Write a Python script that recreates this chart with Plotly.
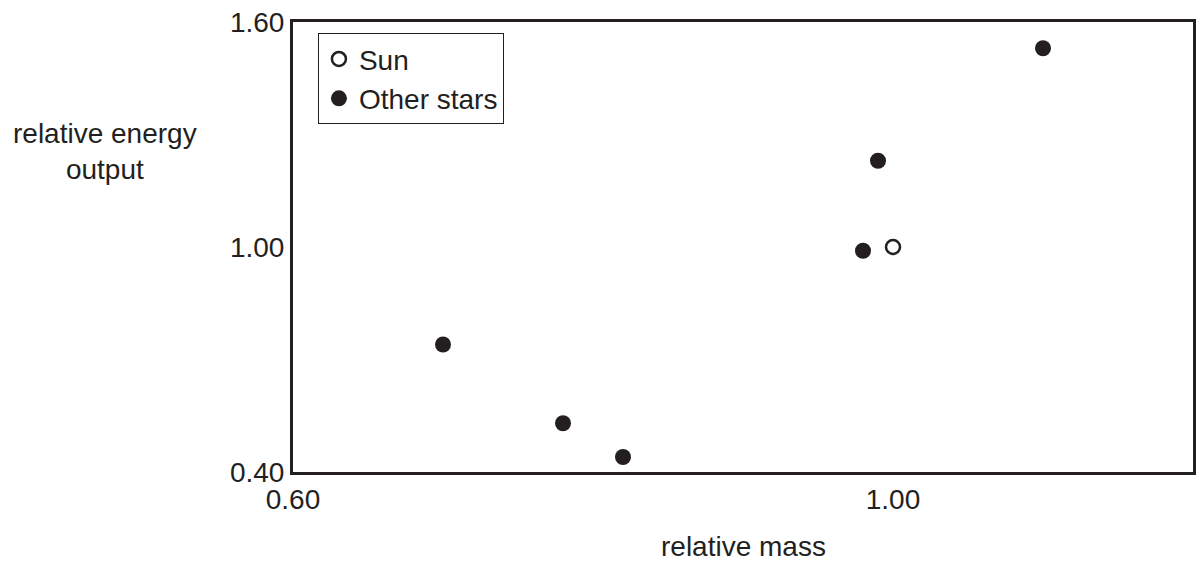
import plotly.graph_objects as go

sun_mass = [1.00]
sun_energy = [1.00]
other_mass = [0.70, 0.78, 0.82, 0.98, 0.99, 1.10]
other_energy = [0.74, 0.53, 0.44, 0.99, 1.23, 1.53]
x_ticks = [0.60, 1.00]
y_ticks = [0.40, 1.00, 1.60]

INK = "#231f20"
FONT = "Liberation Sans, Arial, sans-serif"
FS = 28

fig = go.Figure()
fig.add_trace(go.Scatter(
    x=sun_mass, y=sun_energy, mode="markers", name="Sun",
    marker=dict(symbol="circle-open", size=14, color=INK, line=dict(width=2.5, color=INK)),
))
fig.add_trace(go.Scatter(
    x=other_mass, y=other_energy, mode="markers", name="Other stars",
    marker=dict(symbol="circle", size=16, color=INK),
))

axis_common = dict(
    showgrid=False, zeroline=False, showline=True, mirror=True,
    linecolor=INK, linewidth=3, ticks="", tickfont=dict(size=FS, color=INK, family=FONT),
)
fig.update_xaxes(range=[0.6, 1.2], tickvals=x_ticks, ticktext=[f"{v:.2f}" for v in x_ticks], **axis_common)
fig.update_yaxes(range=[0.4, 1.6], tickvals=y_ticks, ticktext=[f"{v:.2f}" for v in y_ticks], **axis_common)

fig.add_annotation(text="relative energy<br>output", xref="paper", yref="paper",
                   x=-0.209, y=0.712, showarrow=False, xanchor="center", yanchor="middle",
                   align="center", font=dict(size=FS, color=INK, family=FONT))
fig.add_annotation(text="relative mass", xref="paper", yref="paper",
                   x=0.5, y=-0.165, showarrow=False, xanchor="center", yanchor="middle",
                   font=dict(size=FS, color=INK, family=FONT))

fig.update_layout(
    width=1203, height=562,
    margin=dict(l=293, r=7, t=19, b=90),
    plot_bgcolor="white", paper_bgcolor="white",
    font=dict(family=FONT, color=INK, size=FS),
    legend=dict(x=0.0277, y=0.975, xanchor="left", yanchor="top",
                bordercolor=INK, borderwidth=1, bgcolor="white",
                font=dict(size=FS, color=INK, family=FONT),
                itemwidth=30, tracegroupgap=0),
    showlegend=True,
)

fig.write_html("out.html", config={"displayModeBar": False},
               post_script="document.body.style.margin='0';document.body.style.overflow='hidden';")
